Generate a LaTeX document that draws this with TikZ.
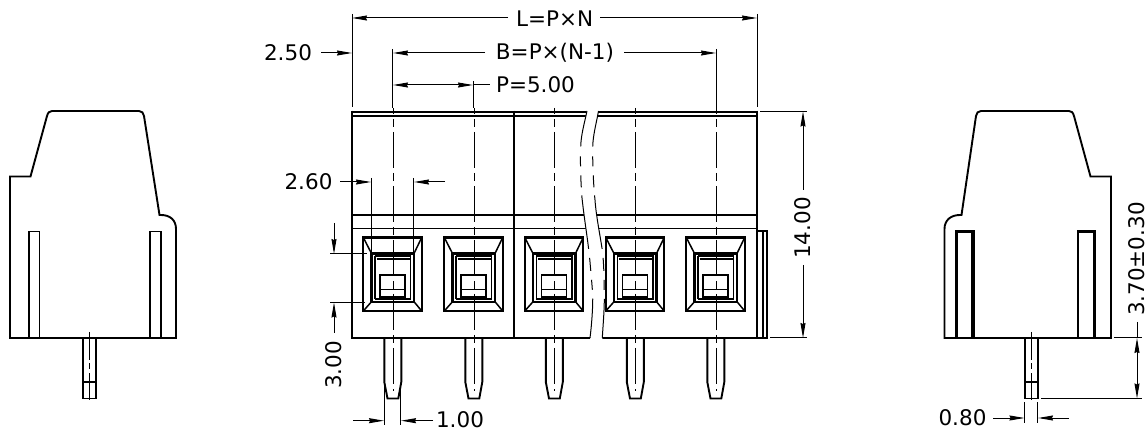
\documentclass[tikz,border=0pt]{standalone}
\usepackage{fontspec}
\setmainfont{DejaVu Sans}
\usetikzlibrary{arrows.meta}
\tikzset{
  thickline/.style={line width=1.9pt,line join=miter},
  thinline/.style={line width=1pt},
  centerline/.style={line width=1pt,dash pattern=on 36pt off 5pt on 8pt off 5pt},
  dimarrow/.style={line width=1pt,-{Stealth[length=15pt,width=5pt,inset=1pt]}},
  dimboth/.style={line width=1pt,{Stealth[length=15pt,width=5pt,inset=1pt]}-{Stealth[length=15pt,width=5pt,inset=1pt]}},
  dimtext/.style={inner sep=0pt,font=\fontsize{21.5}{22}\selectfont,text=black},
  breakline/.style={line width=1pt,dash pattern=on 36pt off 10pt on 10pt off 9pt on 12pt off 8pt on 54pt off 9pt on 13pt off 9pt on 10pt off 9pt on 50pt},
}
\newcommand{\terminalbox}[1]{%
 \begin{scope}[shift={(#1,0)}]
  \draw[line width=2.2pt] (-29.7,237.5) rectangle (28.7,311);
  \draw[line width=2.2pt] (-21.5,253.5) rectangle (21,301.7);
  \draw[line width=1.5pt] (-29.7,237.5) -- (-21.5,253.5) (28.7,237.5) -- (21,253.5) (-29.7,311) -- (-21.5,301.7) (28.7,311) -- (21,301.7);
  \draw[line width=1.6pt] (-18,256) -- (-18,299) (17.5,256) -- (17.5,299);
  \draw[line width=1.2pt] (-16.5,259) -- (16.5,259);
  \draw[line width=2.4pt] (-18.5,256) -- (18,256);
  \draw[line width=2.2pt] (-18.5,299.3) -- (18,299.3);
  \draw[line width=1.9pt] (-13,275) rectangle (12,296.7);
  \draw[line width=1.5pt] (-13,289.3) -- (12,289.3);
 \end{scope}}
\newcommand{\frontpin}[1]{%
 \begin{scope}[shift={(#1,0)}]
  \draw[thickline] (-8.7,338) -- (-8.7,382) -- (-5.5,398.5) -- (5.3,398.5) -- (8.3,382) -- (8.3,338);
 \end{scope}}
\begin{document}
\begin{tikzpicture}[x=1pt,y=-1pt]
\useasboundingbox (0,0) rectangle (1146,430);
% left side view
\draw[thickline] (10,176.5) -- (30.5,176.5) -- (47,116) .. controls (48,112.5) and (49.5,111) .. (52,111) -- (139,111) .. controls (142,111) and (143.5,113) .. (144,116) -- (159.5,215) -- (161,215) .. controls (170,215) and (176,220) .. (176,229) -- (176,338) -- (10,338) -- cycle;
\draw[line width=1.7pt] (29,338) -- (29,231.5) -- (39.5,231.5) -- (39.5,338);
\draw[line width=1.7pt] (150.3,338) -- (150.3,231.5) -- (160.7,231.5) -- (160.7,338);
\draw[thickline] (82.7,338) rectangle (95.7,398.5);
\draw[line width=1.6pt] (82.7,381.7) -- (95.7,381.7);
\draw[line width=0.9pt,dash pattern=on 28pt off 3pt on 6pt off 4pt on 40pt] (89.2,332) -- (89.2,400);
% right side view
\draw[thickline] (944.5,338) -- (944.5,229) .. controls (944.5,220) and (951,215) .. (960,215) -- (961.5,215) -- (976,116) .. controls (976.5,113) and (978,111) .. (981,111) -- (1069,111) .. controls (1071.5,111) and (1073,112.5) .. (1074,116) -- (1090.5,176.5) -- (1111,176.5) -- (1111,338) -- cycle;
\draw[line width=2.4pt] (956.5,338) -- (956.5,231.5) -- (973,231.5);
\draw[line width=3.4pt] (973,230.5) -- (973,338);
\draw[line width=2.4pt] (1077.8,338) -- (1077.8,231.5) -- (1094.5,231.5);
\draw[line width=3.4pt] (1094.5,230.5) -- (1094.5,338);
\draw[thickline] (1024.7,338) rectangle (1038,398.5);
\draw[line width=1.6pt] (1024.7,381.7) -- (1038,381.7);
\draw[line width=0.9pt,dash pattern=on 28pt off 3pt on 6pt off 4pt on 40pt] (1031.3,332) -- (1031.3,400);
% centre body
\draw[line width=2.3pt] (352,111.7) -- (757,111.7);
\draw[thickline] (352,116.3) -- (757,116.3) (352,215) -- (757,215) (352,228.5) -- (757,228.5) (352,338) -- (757,338);
\draw[line width=2.1pt] (352,110.7) -- (352,339) (514,110.7) -- (514,339) (757,110.7) -- (757,339);
\draw[line width=1.7pt] (757,230.7) -- (767,230.7) -- (767,338) -- (757,338);
\draw[line width=2pt] (763,230.7) -- (763,338);
\foreach \c in {393,474,554.5,635.5,716} {\terminalbox{\c}\frontpin{\c}}
% break
\fill[white] (587,110) .. controls (584,125) and (581,135) .. (580.7,147) .. controls (580,165) and (581,185) .. (582,198) .. controls (585,225) and (588,240) .. (590,262) .. controls (592,285) and (593,295) .. (592.7,302) .. controls (592.5,315) and (591,330) .. (590,340) -- (602.3,340) .. controls (603,325) and (604.5,310) .. (604.3,295) .. controls (604,275) and (604,265) .. (602.3,250) .. controls (600,235) and (596,215) .. (595,200) .. controls (593.5,185) and (592.5,165) .. (592.7,147) .. controls (593,135) and (596,125) .. (598.5,110) -- cycle;
\draw[breakline] (587,111) .. controls (584,125) and (581,135) .. (580.7,147) .. controls (580,165) and (581,185) .. (582,198) .. controls (585,225) and (588,240) .. (590,262) .. controls (592,285) and (593,295) .. (592.7,302) .. controls (592.5,315) and (591,330) .. (590,338);
\draw[breakline] (598.5,111) .. controls (596,125) and (593,135) .. (592.7,147) .. controls (592.5,165) and (593.5,185) .. (595,200) .. controls (596,215) and (600,235) .. (602.3,250) .. controls (604,265) and (604,275) .. (604.3,295) .. controls (604.5,310) and (603,325) .. (602.3,338);
% centre lines
\foreach \c in {393,474,554.5,635.5,716}
  \draw[centerline,dash phase=30pt] (\c,108) -- (\c,391);
% extension lines
\draw[thinline] (352,14) -- (352,107);
\draw[thinline] (757,14) -- (757,107);
\draw[thinline] (392.7,49) -- (392.7,108);
\draw[thinline] (716,49) -- (716,108);
\draw[thinline] (473.3,81) -- (473.3,108);
\draw[thinline] (371.5,178) -- (371.5,252);
\draw[thinline] (413.7,178) -- (413.7,252);
\draw[thinline] (330,254) -- (367,254);
\draw[thinline] (330,302.3) -- (365,302.3);
\draw[thinline] (384.2,385) -- (384.2,425);
\draw[thinline] (400.7,385) -- (400.7,425);
\draw[thinline] (760,111.5) -- (807,111.5);
\draw[thinline] (770,338) -- (807,338);
\draw[thinline] (1114,338) -- (1142,338);
\draw[thinline] (1041,398.5) -- (1142,398.5);
\draw[thinline] (1024.7,402) -- (1024.7,423);
\draw[thinline] (1037.7,402) -- (1037.7,423);
% labels
\node[dimtext] (lL) at (554.7,19) {L=P×N};
\node[dimtext] (lB) at (555,53) {B=P×(N-1)};
\node[dimtext] (lP) at (535.5,85) {P=5.00};
\node[dimtext] (l250) at (288,53) {2.50};
\node[dimtext] (l260) at (308.5,182) {2.60};
\node[dimtext,rotate=90] (l300) at (334,365) {3.00};
\node[dimtext] (l100) at (460,420) {1.00};
\node[dimtext,rotate=90] (l1400) at (803,228) {14.00};
\node[dimtext,rotate=90] (l370) at (1137,259) {3.70±0.30};
\node[dimtext] (l080) at (962.5,418) {0.80};
% dimension arrows
\draw[dimarrow] (508,18) -- (352,18);
\draw[dimarrow] (600,18) -- (757,18);
\draw[dimarrow] (485,53) -- (393,53);
\draw[dimarrow] (624,53) -- (716,53);
\draw[dimboth] (393,85) -- (473,85);
\draw[thinline] (473,85) -- (490,85);
\draw[dimarrow] (321,53) -- (352,53);
\draw[dimarrow] (340,182) -- (371,182);
\draw[dimarrow] (445,182) -- (414,182);
\draw[dimarrow] (334,223) -- (334,254);
\draw[dimarrow] (334,333) -- (334,302.5);
\draw[dimarrow] (353,420.7) -- (384,420.7);
\draw[dimarrow] (433,420.7) -- (401,420.7);
\draw[dimarrow] (803,190) -- (803,111.5);
\draw[dimarrow] (803,265) -- (803,338);
\draw[thinline] (1137,322) -- (1137,338);
\draw[dimboth] (1137,338) -- (1137,398.5);
\draw[dimarrow] (993,418) -- (1024.5,418);
\draw[dimarrow] (1069,418) -- (1038,418);
\end{tikzpicture}
\end{document}
